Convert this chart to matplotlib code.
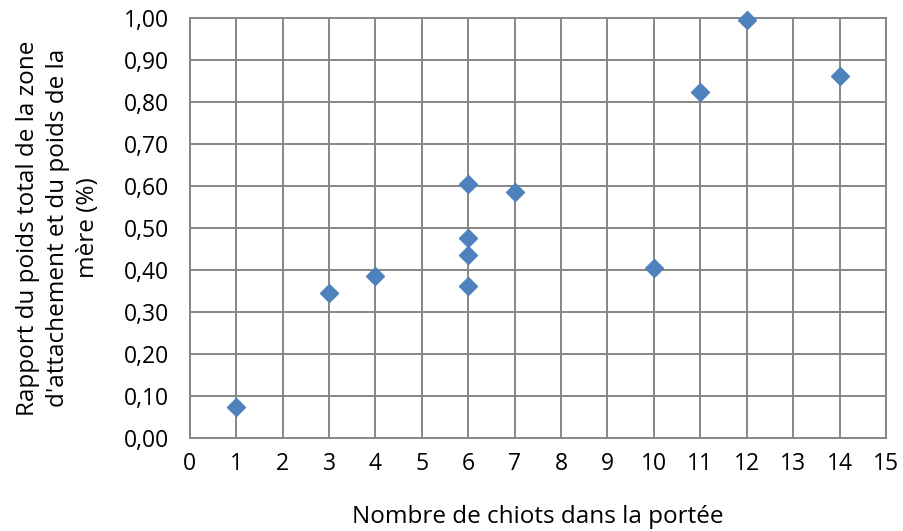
import matplotlib
matplotlib.use("Agg")
import matplotlib.pyplot as plt
from matplotlib.ticker import FuncFormatter

# data
chiots = [1, 3, 4, 6, 6, 6, 6, 7, 10, 11, 12, 14]
rapport = [0.074, 0.346, 0.387, 0.363, 0.437, 0.477, 0.604, 0.587, 0.406, 0.823, 0.995, 0.862]

xticks = list(range(0, 16))
yticks = [i / 10 for i in range(0, 11)]

plt.rcParams['font.family'] = ['Open Sans', 'DejaVu Sans']

fig = plt.figure(figsize=(9.04, 5.31), dpi=100)
ax = fig.add_axes([0.210, 0.175, 0.770, 0.791])

ax.plot(chiots, rapport, linestyle="none", marker="D", markersize=9.6,
        color="#4F81BD", markeredgecolor="#4F81BD", zorder=3, clip_on=False)

ax.set_xlim(0, 15)
ax.set_ylim(0, 1.0)
ax.set_xticks(xticks)
ax.set_yticks(yticks)
ax.yaxis.set_major_formatter(FuncFormatter(lambda v, p: f"{v:.2f}".replace(".", ",")))
ax.grid(True, color="#868686", lw=1.4, zorder=0)
ax.set_axisbelow(True)
for s in ax.spines.values():
    s.set_color("#868686")
    s.set_linewidth(1.4)
ax.tick_params(length=0, labelsize=16.5, pad=10, colors="#000000")
ax.tick_params(axis="y", pad=15)

ax.set_xlabel("Nombre de chiots dans la portée", fontsize=17.5, labelpad=21)
ax.set_ylabel("Rapport du poids total de la zone\nd'attachement et du poids de la\nmère (%)",
              fontsize=17.5, labelpad=17, linespacing=1.35)

plt.savefig("out.png", dpi=100)
